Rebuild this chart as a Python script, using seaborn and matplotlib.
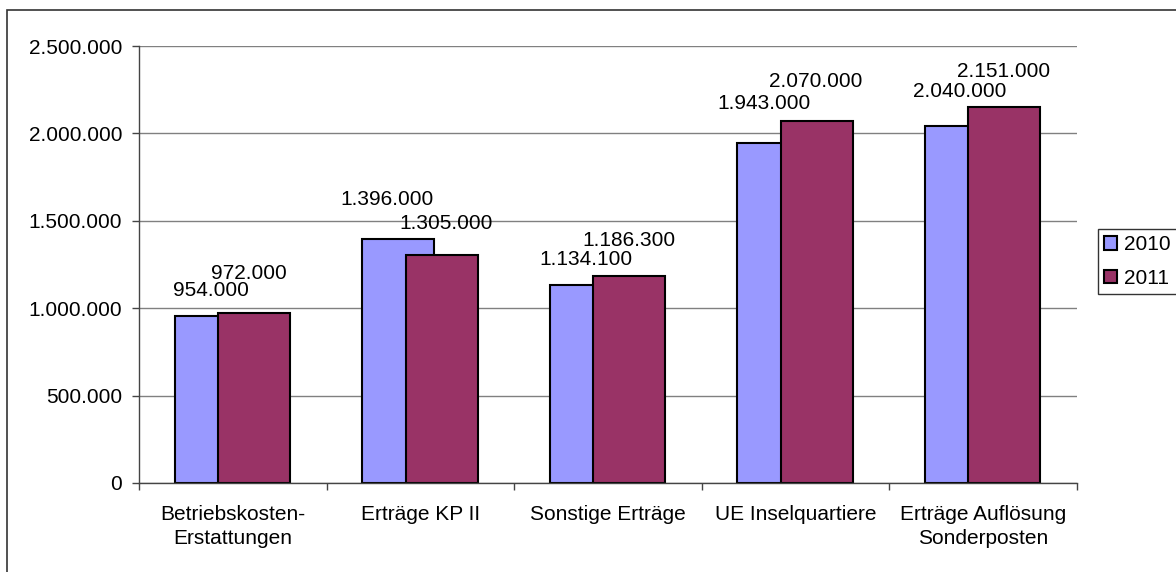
import pandas as pd
import matplotlib.pyplot as plt
import seaborn as sns
from matplotlib.patches import Rectangle
from matplotlib.ticker import FuncFormatter, FixedLocator

# Data
categories = ["Betriebskosten-\nErstattungen", "Erträge KP II", "Sonstige Erträge",
              "UE Inselquartiere", "Erträge Auflösung\nSonderposten"]
years = ["2010", "2011"]
values_2010 = [954000, 1396000, 1134100, 1943000, 2040000]
values_2011 = [972000, 1305000, 1186300, 2070000, 2151000]
y_ticks = [0, 500000, 1000000, 1500000, 2000000, 2500000]

colors = {"2010": "#9999FF", "2011": "#993366"}

# label offsets in pixels (dx, dy above bar top) - excel places them a bit unevenly
label_offsets = {
    "2010": [(0, 26), (-11, 39), (0, 25), (-9, 40), (-1, 35)],
    "2011": [(-5, 40), (4, 31), (0, 35), (-1, 40), (-1, 36)],
}

df = pd.DataFrame({
    "category": categories * 2,
    "year": [years[0]] * len(categories) + [years[1]] * len(categories),
    "value": values_2010 + values_2011,
})

sns.set_style("white")
plt.rcParams["font.family"] = ["Liberation Sans", "DejaVu Sans"]
plt.rcParams["text.color"] = "black"
plt.rcParams["xtick.color"] = "black"
plt.rcParams["ytick.color"] = "black"

W, H = 1176, 572
fig = plt.figure(figsize=(W / 100, H / 100), dpi=100)
ax = fig.add_axes([139 / W, 1 - 483 / H, (1077 - 139) / W, (483 - 46) / H])

sns.barplot(data=df, x="category", y="value", hue="year", palette=colors, saturation=1,
            edgecolor="black", linewidth=1.5, ax=ax, zorder=2)

# excel style: overlapping bars, 2011 drawn on top of 2010
bar_w = 0.384
shift = {"2010": -0.118, "2011": 0.113}
px = 0.72  # pixels -> points at dpi 100
for container, year in zip(ax.containers, years):
    for bar in container:
        c = bar.get_x() + bar.get_width() / 2
        i = int(round(c))
        center = i + shift[year]
        bar.set_width(bar_w)
        bar.set_x(center - bar_w / 2)
        dx, dy = label_offsets[year][i]
        v = bar.get_height()
        ax.annotate(f"{v:,.0f}".replace(",", "."), xy=(center, v),
                    xytext=(dx * px, dy * px), textcoords="offset points",
                    ha="center", va="center", fontsize=15, color="black")

ax.set_xlim(-0.5, len(categories) - 0.5)
ax.set_ylim(0, 2500000)
ax.yaxis.set_major_locator(FixedLocator(y_ticks))
ax.yaxis.set_major_formatter(FuncFormatter(lambda v, p: f"{v:,.0f}".replace(",", ".")))
ax.grid(axis="y", color="#808080", linewidth=1.0, zorder=0)
ax.set_axisbelow(True)

ax.set_xticks(range(len(categories)))
ax.set_xticklabels(categories, fontsize=15, linespacing=1.3)
ax.set_xticks([i - 0.5 for i in range(len(categories) + 1)], minor=True)
ax.tick_params(axis="x", which="major", length=0, pad=16, labelcolor="black")
ax.tick_params(axis="x", which="minor", length=5, width=1, color="#444444", direction="out", bottom=True)
ax.tick_params(axis="y", length=5, width=1, color="#444444", direction="out", left=True,
               labelsize=15, pad=7, labelcolor="black")
ax.set_xlabel("")
ax.set_ylabel("")

for s in ["top", "right"]:
    ax.spines[s].set_visible(False)
for s in ["left", "bottom"]:
    ax.spines[s].set_color("#444444")
    ax.spines[s].set_linewidth(1.0)

leg = ax.legend(loc="upper left", bbox_to_anchor=(1098 / W, 1 - 229 / H), bbox_transform=fig.transFigure,
                title=None, fontsize=15, frameon=True, fancybox=False, edgecolor="black",
                handlelength=0.6, handleheight=0.6, handletextpad=0.35, borderpad=0.3,
                labelspacing=0.7, borderaxespad=0, labelcolor="black")
leg.get_frame().set_linewidth(1.0)

# outer chart border (cut off at right/bottom like the screenshot)
fig.patches.append(Rectangle((7 / W, -0.1), 1.2, 1.1 - 10 / H, transform=fig.transFigure,
                             fill=False, edgecolor="#333333", linewidth=1.2))

fig.savefig("out.png", dpi=100)
